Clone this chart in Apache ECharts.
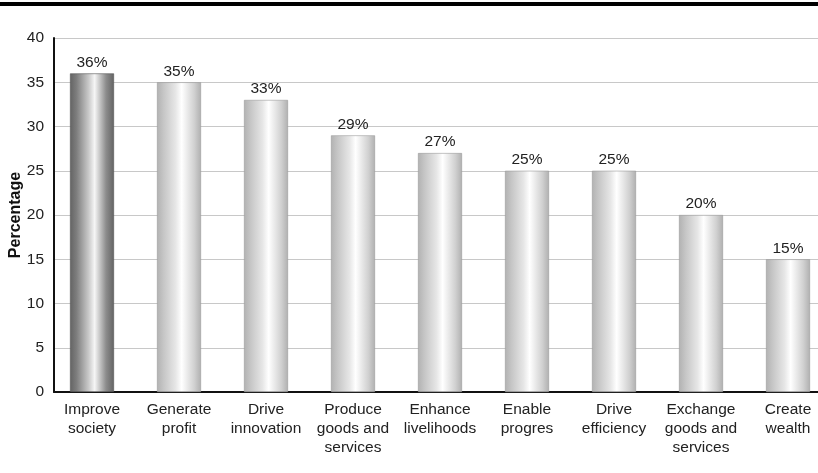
<!DOCTYPE html>
<html><head><meta charset="utf-8">
<script src="https://cdn.jsdelivr.net/npm/echarts@6/dist/echarts.min.js"></script>
<style>html,body{margin:0;padding:0;background:#fff}#c{width:818px;height:473px}</style>
</head><body><div id="c"></div>
<script>
var categories = ['Improve\nsociety','Generate\nprofit','Drive\ninnovation','Produce\ngoods and\nservices','Enhance\nlivelihoods','Enable\nprogres','Drive\nefficiency','Exchange\ngoods and\nservices','Create\nwealth'];
var values = [36, 35, 33, 29, 27, 25, 25, 20, 15];
var yTicks = {min: 0, max: 40, interval: 5};

var FONT = '"Liberation Sans", Arial, Helvetica, sans-serif';
function grad(dark){
  return new echarts.graphic.LinearGradient(0,0,1,0, dark ? [
    {offset:0,color:'#636363'},{offset:0.15,color:'#7e7e7e'},{offset:0.42,color:'#c8c8c8'},{offset:0.56,color:'#f6f6f6'},{offset:0.82,color:'#8c8c8c'},{offset:1,color:'#636363'}
  ] : [
    {offset:0,color:'#b2b2b2'},{offset:0.15,color:'#c6c6c6'},{offset:0.42,color:'#e6e6e6'},{offset:0.56,color:'#ffffff'},{offset:0.85,color:'#d0d0d0'},{offset:1,color:'#b0b0b0'}
  ]);
}
var chart = echarts.init(document.getElementById('c'), null, {renderer:'canvas'});
chart.setOption({
  animation:false,
  textStyle:{fontFamily:FONT},
  graphic:[{type:'rect',shape:{x:0,y:2,width:818,height:4},style:{fill:'#000'}}],
  grid:[
    {left:54,right:0,top:38,bottom:81,containLabel:false,outerBoundsMode:'none'},
    {left:48.5,width:783,top:38,bottom:81,containLabel:false,outerBoundsMode:'none'}
  ],
  xAxis:[
    {type:'category',gridIndex:0,data:categories,axisLine:{lineStyle:{color:'#111',width:2}},axisTick:{show:false},axisLabel:{show:false}},
    {type:'category',gridIndex:1,data:categories,axisLine:{show:false},axisTick:{show:false},
     axisLabel:{color:'#222',fontSize:15.5,lineHeight:19,margin:8,interval:0,fontFamily:FONT}}
  ],
  yAxis:[
    {type:'value',gridIndex:0,min:yTicks.min,max:yTicks.max,interval:yTicks.interval,
     axisLine:{show:true,lineStyle:{color:'#111',width:2}},axisTick:{show:false},
     axisLabel:{color:'#222',fontSize:15.5,margin:10,fontFamily:FONT},
     splitLine:{lineStyle:{color:'#c8c8c8',width:1}},
     name:'Percentage',nameLocation:'middle',nameGap:30,nameMoveOverlap:false,
     nameTextStyle:{fontWeight:'bold',fontSize:16,color:'#111',fontFamily:FONT}},
    {type:'value',gridIndex:1,min:yTicks.min,max:yTicks.max,interval:yTicks.interval,show:false,splitLine:{show:false}}
  ],
  series:[{
    type:'bar',xAxisIndex:1,yAxisIndex:1,barWidth:44,
    data:values.map(function(v,i){return {value:v,itemStyle:{color:grad(i===0),borderColor:i===0?'#555':'#9a9a9a',borderWidth:0.6}};}),
    label:{show:true,position:'top',distance:3,formatter:'{c}%',color:'#222',fontSize:15.5,fontFamily:FONT}
  }]
});
</script></body></html>
